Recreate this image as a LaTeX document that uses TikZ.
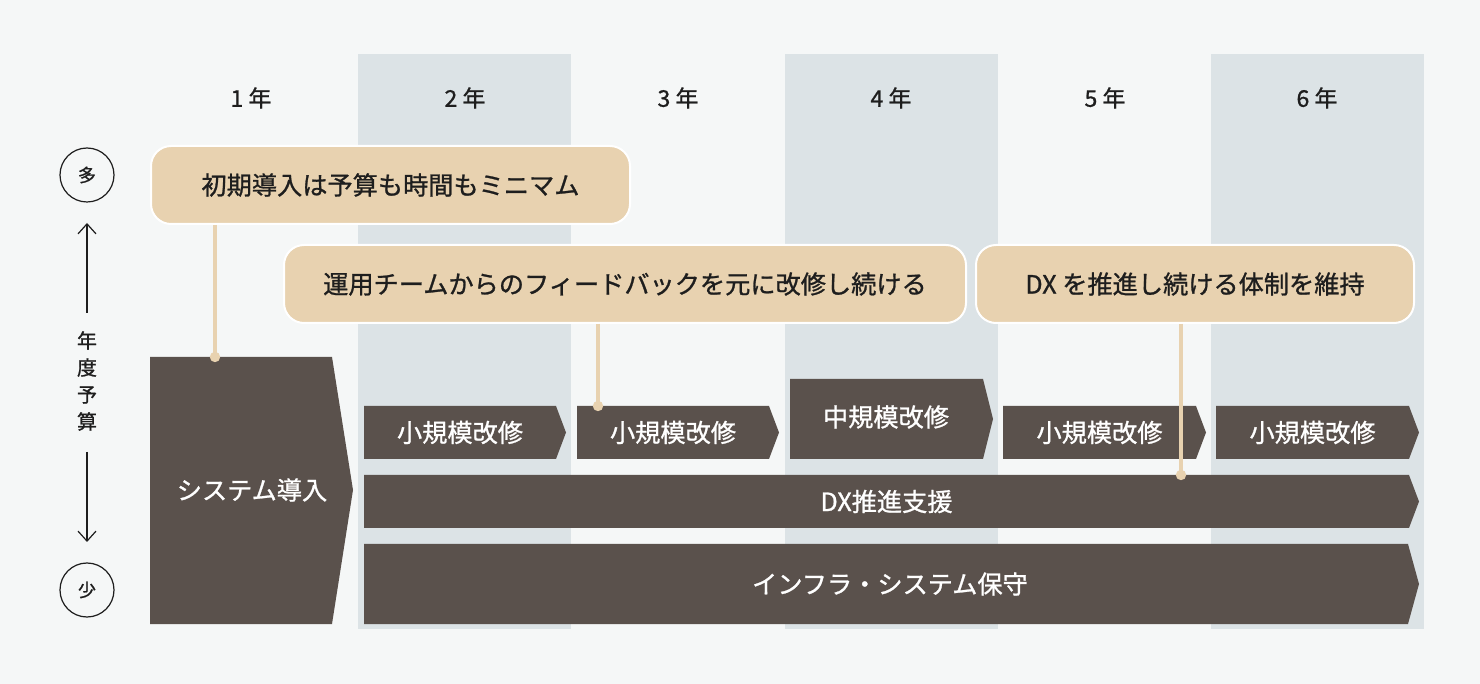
\documentclass[tikz,border=0pt]{standalone}
\usepackage{fontspec}
\setmainfont{Noto Sans CJK JP}
\newfontfamily\medfont{Noto Sans CJK JP}[FakeBold=1]
\usetikzlibrary{calc,arrows.meta}
\definecolor{bgc}{HTML}{F5F7F7}
\definecolor{stripe}{HTML}{DCE3E6}
\definecolor{barc}{HTML}{5A514C}
\definecolor{tanc}{HTML}{E8D2B0}
\definecolor{txt}{HTML}{1E1E1E}
\newcommand{\chevbox}[6]{% name, x1, y1, x2 (tip), y2, text
  \fill[barc] (#2,#3) -- ({#4-10},#3) -- (#4,{(#3+#5)/2}) -- ({#4-10},#5) -- (#2,#5) -- cycle;
  \node[bartext] (#1) at ({(#2+#4-10)/2},{(#3+#5)/2}) {#6};}
\begin{document}
\begin{tikzpicture}[x=0.5pt,y=-0.5pt,
  bartext/.style={text=white,font=\medfont\fontsize{12.6pt}{15pt}\selectfont,inner sep=0pt},
  yearlbl/.style={text=txt,font=\medfont\fontsize{11.5pt}{12pt}\selectfont,inner sep=0pt},
  callout/.style={fill=tanc,draw=white,line width=1pt,rounded corners=10pt,inner sep=0pt,outer sep=0pt,
    minimum height=39pt,text=txt,font=\medfont\fontsize{12.6pt}{15pt}\selectfont},
  conn/.style={draw=tanc,line width=2pt},
  axis/.style={draw=txt,line width=0.6pt},
  circ/.style={circle,draw=txt,line width=0.6pt,minimum size=27pt,inner sep=0pt,text=txt,
    font=\medfont\fontsize{9pt}{10pt}\selectfont}]
\useasboundingbox (0,0) rectangle (1480,684);
\fill[bgc] (0,0) rectangle (1480,684);
% stripes
\fill[stripe] (358,54) rectangle (571,629);
\fill[stripe] (785,54) rectangle (998,629);
\fill[stripe] (1211,54) rectangle (1424,629);
% year labels
\node[yearlbl] (y1) at (251,98) {1 年};
\node[yearlbl] (y2) at (465,98) {2 年};
\node[yearlbl] (y3) at (678,98) {3 年};
\node[yearlbl] (y4) at (891,98) {4 年};
\node[yearlbl] (y5) at (1105,98) {5 年};
\node[yearlbl] (y6) at (1317,98) {6 年};
% left axis
\node[circ] (hi) at (87,175) {多};
\node[circ] (lo) at (87,590) {少};
\node[text=txt,font=\medfont\fontsize{10pt}{13.5pt}\selectfont,align=center,inner sep=0pt] (ax) at (87,381) {年\\度\\予\\算};
\coordinate (aup) at (87,313);
\coordinate (aupt) at (87,223);
\coordinate (adn) at (87,452);
\coordinate (adnt) at (87,542);
\draw[axis,-{Straight Barb[length=5pt,width=9pt]}] (aup) -- (aupt);
\draw[axis,-{Straight Barb[length=5pt,width=9pt]}] (adn) -- (adnt);
% system introduction
\fill[barc] (150,357) -- (332,357) -- (353,490) -- (332,624) -- (150,624) -- cycle;
\node[bartext] (sys) at (252,490) {システム導入};
% small boxes
\chevbox{k2}{364}{406}{566}{459}{小規模改修}
\chevbox{k3}{577}{406}{779}{459}{小規模改修}
\fill[barc] (790,379) -- (983,379) -- (993,419) -- (983,459) -- (790,459) -- cycle;
\node[bartext] (k4) at (886,417) {中規模改修};
\chevbox{k5}{1003}{406}{1206}{459}{小規模改修}
\chevbox{k6}{1216}{406}{1419}{459}{小規模改修}
% long bars
\chevbox{dx}{364}{475}{1419}{528}{DX推進支援}
\fill[barc] (364,544) -- (1408,544) -- (1419,584) -- (1408,624) -- (364,624) -- cycle;
\node[bartext] (inf) at (890,584) {インフラ・システム保守};
% callouts
\node[callout,minimum width=239.5pt] (c1) at (390.5,185) {初期導入は予算も時間もミニマム};
\node[callout,minimum width=341pt] (c2) at (625,284) {運用チームからのフィードバックを元に改修し続ける};
\node[callout,minimum width=219pt] (c3) at (1195,284) {DX を推進し続ける体制を維持};
% connectors
\coordinate (d1) at (215,357);
\coordinate (d2) at (598,406);
\coordinate (d3) at (1181,475);
\draw[conn] ($(c1.south -| d1)+(0,1)$) -- (d1);
\draw[conn] ($(c2.south -| d2)+(0,1)$) -- (d2);
\draw[conn] ($(c3.south -| d3)+(0,1)$) -- (d3);
\fill[tanc] (d1) circle (2.6pt);
\fill[tanc] (d2) circle (2.6pt);
\fill[tanc] (d3) circle (2.6pt);
\end{tikzpicture}
\end{document}
